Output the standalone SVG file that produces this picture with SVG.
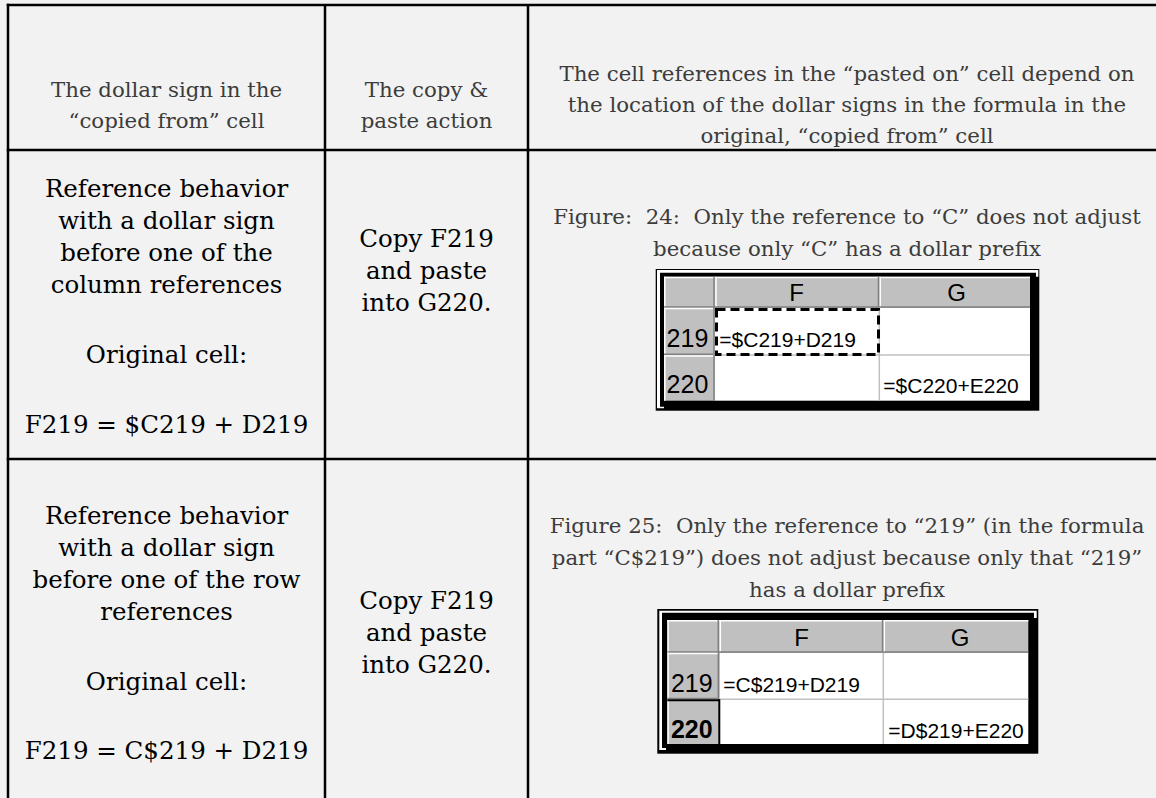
<svg xmlns="http://www.w3.org/2000/svg" width="1156" height="798" viewBox="0 0 1156 798">
<style>
.hdr{font-family:"DejaVu Serif",serif;font-size:21.3px;fill:#3c3c3c;text-anchor:middle}
.body{font-family:"DejaVu Serif",serif;font-size:24.5px;fill:#000;text-anchor:middle}
.cap{font-family:"DejaVu Serif",serif;font-size:21.3px;fill:#3c3c3c;text-anchor:middle}
.xl{font-family:"Liberation Sans",Arial,sans-serif;fill:#000}
.colh{font-size:24px;text-anchor:middle}
.rowh{font-size:25px;text-anchor:end}
.cell{font-size:21px}
.tl{stroke:#000;stroke-width:2.5;fill:none}
.hi{stroke:#fff;stroke-width:1.5}
.sh{stroke:#808080;stroke-width:1.5}
.gl{stroke:#c0c0c0;stroke-width:1.5}
.mq{fill:none;stroke:#000;stroke-width:3;stroke-dasharray:9 5}
</style>
<rect width="1156" height="798" fill="#f2f2f2"/>
<g id="table-lines" class="tl">
<line x1="6.75" y1="5" x2="1156" y2="5"/>
<line x1="6.75" y1="150" x2="1156" y2="150"/>
<line x1="6.75" y1="459" x2="1156" y2="459"/>
<line x1="8" y1="3.75" x2="8" y2="798"/>
<line x1="325" y1="5" x2="325" y2="798"/>
<line x1="528" y1="5" x2="528" y2="798"/>
</g>
<g id="header-col1">
<text class="hdr" x="166.5" y="97">The dollar sign in the</text>
<text class="hdr" x="166.5" y="128">“copied from” cell</text>
</g>
<g id="header-col2">
<text class="hdr" x="426.5" y="97">The copy &amp;</text>
<text class="hdr" x="426.5" y="128">paste action</text>
</g>
<g id="header-col3">
<text class="hdr" x="847" y="81">The cell references in the “pasted on” cell depend on</text>
<text class="hdr" x="847" y="112">the location of the dollar signs in the formula in the</text>
<text class="hdr" x="847" y="143">original, “copied from” cell</text>
</g>
<g id="row1-col1">
<text class="body" x="166.5" y="197">Reference behavior</text>
<text class="body" x="166.5" y="229">with a dollar sign</text>
<text class="body" x="166.5" y="261">before one of the</text>
<text class="body" x="166.5" y="293">column references</text>
<text class="body" x="166.5" y="363">Original cell:</text>
<text class="body" x="166.5" y="433">F219 = $C219 + D219</text>
</g>
<g id="row1-col2">
<text class="body" x="426.5" y="247">Copy F219</text>
<text class="body" x="426.5" y="279">and paste</text>
<text class="body" x="426.5" y="311">into G220.</text>
</g>
<g id="row1-col3">
<text class="cap" x="847" y="224" xml:space="preserve">Figure:  24:  Only the reference to “C” does not adjust</text>
<text class="cap" x="847" y="256">because only “C” has a dollar prefix</text>
<g id="sheet24">
<rect x="655.7" y="269" width="383.6" height="141.7" fill="#000"/>
<path d="M657,270 H1038.3 V276.7 H1036 V272.7 H660 V406.7 H664 V408.3 H657 Z" fill="#fff"/>
<rect x="664" y="276.7" width="366" height="31" fill="#c0c0c0"/>
<rect x="664" y="307.7" width="51" height="93" fill="#c0c0c0"/>
<rect x="715" y="307.7" width="315" height="93" fill="#fff"/>
<line class="hi" x1="664" y1="277.5" x2="1030" y2="277.5"/>
<line class="hi" x1="664.8" y1="276.7" x2="664.8" y2="400.7"/>
<line class="hi" x1="716" y1="276.7" x2="716" y2="307"/>
<line class="hi" x1="880.2" y1="276.7" x2="880.2" y2="307"/>
<line class="sh" x1="714" y1="276.7" x2="714" y2="400.7"/>
<line class="sh" x1="878.5" y1="276.7" x2="878.5" y2="307"/>
<line class="sh" x1="664" y1="307" x2="1030" y2="307"/>
<line class="hi" x1="664" y1="308.6" x2="713" y2="308.6"/>
<line class="sh" x1="664" y1="354.3" x2="713" y2="354.3"/>
<line class="hi" x1="664" y1="355.9" x2="713" y2="355.9"/>
<line class="gl" x1="879.3" y1="307.7" x2="879.3" y2="400.7"/>
<line class="gl" x1="715" y1="355" x2="1030" y2="355"/>
<rect class="mq" x="716.5" y="309.5" width="162" height="45"/>
<text class="xl colh" x="796.7" y="301">F</text>
<text class="xl colh" x="956.7" y="301">G</text>
<text class="xl rowh" x="708.3" y="346.7">219</text>
<text class="xl rowh" x="708.3" y="393">220</text>
<text class="xl cell" x="719.3" y="346.7">=$C219+D219</text>
<text class="xl cell" x="883.3" y="393.3">=$C220+E220</text>
</g>
</g>
<g id="row2-col1">
<text class="body" x="166.5" y="524">Reference behavior</text>
<text class="body" x="166.5" y="556">with a dollar sign</text>
<text class="body" x="166.5" y="588">before one of the row</text>
<text class="body" x="166.5" y="620">references</text>
<text class="body" x="166.5" y="690">Original cell:</text>
<text class="body" x="166.5" y="759">F219 = C$219 + D219</text>
</g>
<g id="row2-col2">
<text class="body" x="426.5" y="609">Copy F219</text>
<text class="body" x="426.5" y="641">and paste</text>
<text class="body" x="426.5" y="673">into G220.</text>
</g>
<g id="row2-col3">
<text class="cap" x="847" y="533" xml:space="preserve">Figure 25:  Only the reference to “219” (in the formula</text>
<text class="cap" x="847" y="565">part “C$219”) does not adjust because only that “219”</text>
<text class="cap" x="847" y="597">has a dollar prefix</text>
<g id="sheet25">
<rect x="657.3" y="609" width="381" height="144.7" fill="#000"/>
<path d="M659.3,610.7 H1036.7 V618 H1034 V612.7 H662 V748 H666 V750 H659.3 Z" fill="#fff"/>
<rect x="667.3" y="620" width="361" height="32.7" fill="#c0c0c0"/>
<rect x="667.3" y="652.7" width="52" height="91.3" fill="#c0c0c0"/>
<rect x="719.3" y="652.7" width="309" height="91.3" fill="#fff"/>
<line class="hi" x1="667.3" y1="620.8" x2="1028.3" y2="620.8"/>
<line class="hi" x1="668.1" y1="620" x2="668.1" y2="744"/>
<line class="hi" x1="720.3" y1="620" x2="720.3" y2="652"/>
<line class="hi" x1="884.3" y1="620" x2="884.3" y2="652"/>
<line class="sh" x1="718.3" y1="620" x2="718.3" y2="699"/>
<line class="sh" x1="882.6" y1="620" x2="882.6" y2="652"/>
<line class="sh" x1="667.3" y1="652" x2="1028.3" y2="652"/>
<line class="hi" x1="667.3" y1="653.6" x2="717.5" y2="653.6"/>
<line class="sh" x1="667.3" y1="698.5" x2="717.5" y2="698.5"/>
<line class="gl" x1="883.3" y1="652.7" x2="883.3" y2="744"/>
<line class="gl" x1="719.3" y1="699.3" x2="1028.3" y2="699.3"/>
<line x1="667.3" y1="700.3" x2="720" y2="700.3" stroke="#000" stroke-width="2"/>
<line x1="719.3" y1="699.3" x2="719.3" y2="744" stroke="#000" stroke-width="2"/>
<text class="xl colh" x="801.7" y="646">F</text>
<text class="xl colh" x="960" y="646">G</text>
<text class="xl rowh" x="712.7" y="691.7">219</text>
<text class="xl rowh" x="712.7" y="738.3" font-weight="bold">220</text>
<text class="xl cell" x="723.3" y="691.7">=C$219+D219</text>
<text class="xl cell" x="888.3" y="738.3">=D$219+E220</text>
</g>
</g>
</svg>
